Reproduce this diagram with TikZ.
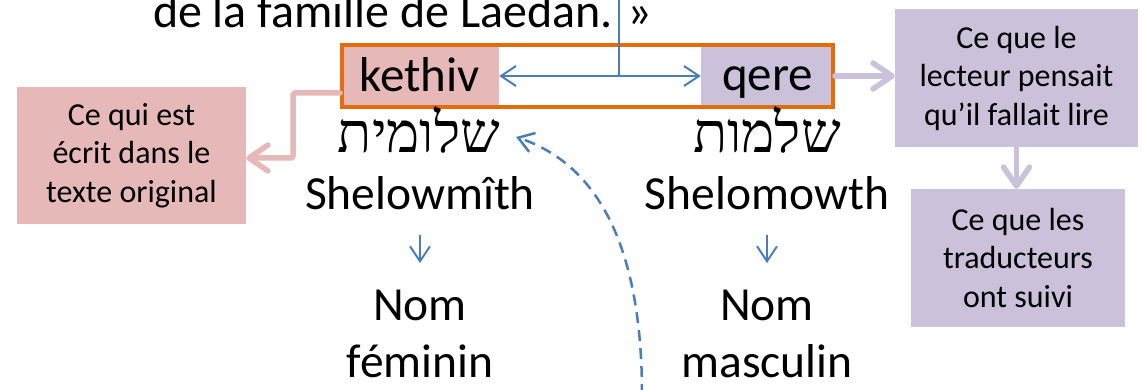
\documentclass[tikz,border=0pt]{standalone}
\usepackage{fontspec}
\setmainfont{Carlito}
\newfontfamily\hebfont[Script=Hebrew]{Liberation Serif}
\TeXXeTstate=1
\usetikzlibrary{arrows.meta}
\definecolor{kpink}{HTML}{E6B9B8}
\definecolor{qpurple}{HTML}{CCC1DA}
\definecolor{frameorange}{HTML}{E46C0A}
\definecolor{lineblue}{HTML}{4A7EBB}
\begin{document}
\begin{tikzpicture}[x=1pt,y=-1pt,
  txt/.style={inner sep=0pt, outer sep=0pt, font=\fontsize{47.5}{57}\selectfont},
  labtxt/.style={inner sep=0pt, outer sep=0pt, font=\fontsize{49}{58}\selectfont},
  multitxt/.style={txt, align=center},
  hebtxt/.style={inner sep=0pt, outer sep=0pt, font=\hebfont\fontsize{56}{60}\selectfont},
  fillbox/.style={rectangle, inner sep=0pt, draw=none},
  notebox/.style={rectangle, inner sep=0pt, align=center, font=\fontsize{32}{38.5}\selectfont},
  thickconn/.style={line width=5.5pt, line cap=round, line join=round, rounded corners=2pt,
     -{Straight Barb[length=19pt,width=26pt,round]}},
  bluethin/.style={draw=lineblue, line width=2pt},
  bluehead/.style={-{Straight Barb[length=15pt,width=20pt]}},
  bluedash/.style={draw=lineblue, line width=2.5pt, dash pattern=on 11pt off 7pt,
     -{Straight Barb[length=15pt,width=20pt]}}
]
\useasboundingbox (0,0) rectangle (1145,390);
\clip (0,0) rectangle (1145,390);

% title
\node[txt, anchor=base west, font=\fontsize{48}{57}\selectfont] (title) at (153,28) {de la famille de Laedan. »};

% kethiv / qere fills and frame
\node[fillbox, fill=kpink, minimum width=155pt, minimum height=58pt] (kethiv) at (421.5,76) {};
\node[fillbox, fill=qpurple, minimum width=130pt, minimum height=58pt] (qere) at (766,76) {};
\node[draw=frameorange, line width=4pt, rectangle, inner sep=0pt, minimum width=491pt, minimum height=62pt] (frame) at (587.5,76) {};
\node[labtxt, anchor=base] (kethivtxt) at (419.5,92) {kethiv};
\node[labtxt, anchor=base] (qeretxt) at (767.5,91) {qere};

% Hebrew words
\node[hebtxt, anchor=base] (heb1) at (419,153) {\beginR שלומית\endR};
\node[hebtxt, anchor=base] (heb2) at (767,153) {\beginR שלמות\endR};

% transliterations
\node[txt, anchor=base] (sh1) at (420,210) {Shelowmîth};
\node[txt, anchor=base] (sh2) at (767,210) {Shelomowth};

% meanings
\node[multitxt] (nom1) at (420,334) {Nom\\féminin};
\node[multitxt] (nom2) at (767,334) {Nom\\masculin};

% note boxes
\node[notebox, fill=kpink, minimum width=229pt, minimum height=137pt] (orig) at (131.5,155.5) {Ce qui est\\écrit dans le\\texte original};
\node[notebox, fill=qpurple, minimum width=243pt, minimum height=138pt] (box1) at (1016.5,78) {Ce que le\\lecteur pensait\\qu’il fallait lire};
\node[notebox, fill=qpurple, minimum width=214pt, minimum height=138pt] (box2) at (1018,258) {Ce que les\\traducteurs\\ont suivi};

% thick connectors
\coordinate (pk) at (293,158);
\draw[thickconn, draw=kpink] ([yshift=-17pt]frame.west) -| (pk) -- (orig.east |- pk);
\draw[thickconn, draw=qpurple] (frame.east) -- (box1.west |- frame.east);
\draw[thickconn, draw=qpurple] (box1.south) -- (box1.south |- box2.north);

% blue connectors
\coordinate (qtop) at (619,0);
\draw[bluethin, {Straight Barb[length=15pt,width=20pt]}-{Straight Barb[length=15pt,width=20pt]}] (kethiv.east) -- (qere.west);
\draw[bluethin] (qtop) -- (qtop |- kethiv.east);
\draw[bluethin, bluehead] ([yshift=-25pt]sh1.base) -- ([yshift=27pt]nom1.north);
\draw[bluethin, bluehead] ([yshift=-25pt]sh2.base) -- ([yshift=27pt]nom2.north);

% dashed curved arrow
\coordinate (dstart) at (642,395);
\coordinate (dtip) at (516,137);
\draw[bluedash] (dstart) .. controls (642,250) and (600,165) .. (dtip);
\end{tikzpicture}
\end{document}
